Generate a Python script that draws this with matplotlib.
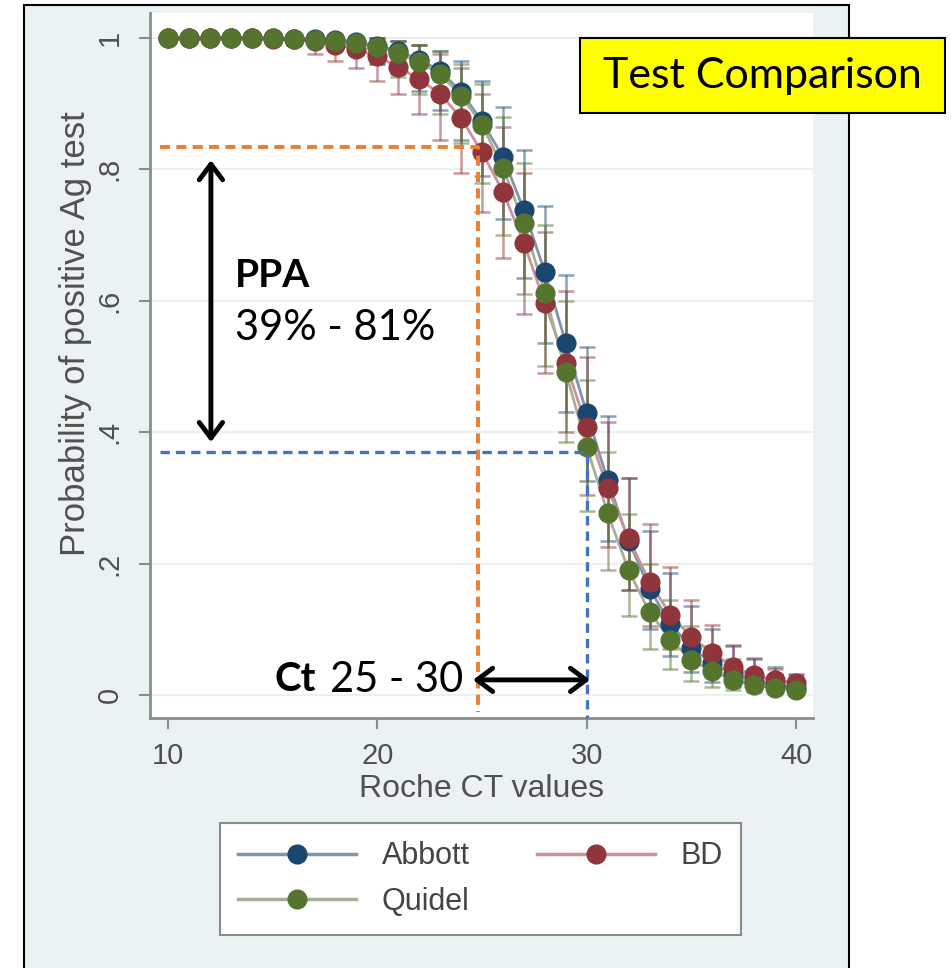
import matplotlib
matplotlib.use('Agg')
import matplotlib.pyplot as plt
import numpy as np
from matplotlib.patches import Rectangle
from matplotlib.lines import Line2D

# Roche CT values on the x axis
ct_values = list(range(10, 41))

# Probability of positive Ag test
abbott = [1.0, 1.0, 1.0, 1.0, 1.0, 1.0, 0.999, 0.998, 0.997, 0.994, 0.988, 0.98, 0.967, 0.95, 0.918, 0.873,
          0.819, 0.738, 0.644, 0.536, 0.429, 0.327, 0.235, 0.162, 0.108, 0.072, 0.048, 0.032, 0.021, 0.015, 0.011]
bd = [1.0, 1.0, 1.0, 1.0, 1.0, 0.999, 0.998, 0.995, 0.99, 0.983, 0.972, 0.956, 0.937, 0.915, 0.878, 0.826,
      0.766, 0.688, 0.597, 0.505, 0.408, 0.315, 0.239, 0.172, 0.122, 0.088, 0.064, 0.043, 0.030, 0.023, 0.018]
quidel = [1.0, 1.0, 1.0, 1.0, 1.0, 1.0, 0.999, 0.997, 0.996, 0.993, 0.986, 0.977, 0.963, 0.945, 0.912, 0.868,
          0.802, 0.718, 0.612, 0.492, 0.378, 0.277, 0.190, 0.126, 0.084, 0.053, 0.036, 0.023, 0.015, 0.011, 0.008]

# confidence interval bounds
abbott_lo = [1.0, 1.0, 1.0, 1.0, 1.0, 1.0, 0.995, 0.99, 0.985, 0.975, 0.96, 0.945, 0.92, 0.89, 0.845, 0.79,
             0.725, 0.635, 0.535, 0.43, 0.325, 0.235, 0.16, 0.1, 0.06, 0.035, 0.02, 0.012, 0.007, 0.005, 0.003]
abbott_hi = [1.0, 1.0, 1.0, 1.0, 1.0, 1.0, 1.0, 1.0, 1.0, 1.0, 1.0, 0.995, 0.99, 0.98, 0.965, 0.935,
             0.895, 0.83, 0.745, 0.64, 0.53, 0.425, 0.33, 0.25, 0.185, 0.135, 0.1, 0.075, 0.055, 0.042, 0.032]
bd_lo = [1.0, 1.0, 1.0, 1.0, 1.0, 0.995, 0.99, 0.975, 0.965, 0.955, 0.935, 0.915, 0.885, 0.845, 0.795, 0.735,
         0.665, 0.58, 0.49, 0.40, 0.305, 0.225, 0.16, 0.105, 0.07, 0.045, 0.03, 0.02, 0.01, 0.008, 0.005]
bd_hi = [1.0, 1.0, 1.0, 1.0, 1.0, 1.0, 1.0, 1.0, 1.0, 1.0, 1.0, 0.995, 0.99, 0.975, 0.955, 0.915,
         0.865, 0.795, 0.705, 0.615, 0.515, 0.415, 0.33, 0.26, 0.195, 0.145, 0.107, 0.076, 0.056, 0.04, 0.03]
quidel_lo = [1.0, 1.0, 1.0, 1.0, 1.0, 1.0, 0.995, 0.99, 0.985, 0.975, 0.96, 0.94, 0.915, 0.885, 0.84, 0.78,
             0.7, 0.61, 0.5, 0.385, 0.28, 0.19, 0.12, 0.07, 0.04, 0.022, 0.012, 0.007, 0.004, 0.003, 0.002]
quidel_hi = [1.0, 1.0, 1.0, 1.0, 1.0, 1.0, 1.0, 1.0, 1.0, 1.0, 1.0, 0.995, 0.99, 0.98, 0.96, 0.93,
             0.88, 0.81, 0.715, 0.6, 0.48, 0.37, 0.275, 0.2, 0.145, 0.105, 0.075, 0.055, 0.04, 0.032, 0.025]

labels = ['Abbott', 'BD', 'Quidel']
colors = ['#1a476f', '#90353b', '#55752f']
line_colors = ['#8194a9', '#c9939a', '#a9ae97']

# annotation values
ppa_high, ppa_low = 0.834, 0.37
ct_low, ct_high = 24.8, 30.0

W, H = 951, 968
fig = plt.figure(figsize=(W / 100, H / 100), dpi=100)
fig.patch.set_facecolor('white')

# stata-like graph region with black frame
fig.patches.append(Rectangle((24 / W, -0.01), (849 - 24) / W, 1.01 - 5 / H, transform=fig.transFigure,
                             facecolor='#EAF2F3', edgecolor='black', lw=1.5, zorder=-10))

ax = fig.add_axes([150 / W, 1 - 718 / H, 663 / W, 705 / H])
ax.set_facecolor('white')
ax.set_xlim(9.14, 40.81)
ax.set_ylim(-0.035, 1.038)

ax.set_axisbelow(True)
ax.yaxis.grid(True, color='#eef0f0', lw=1.5)

series = [(abbott, abbott_lo, abbott_hi), (bd, bd_lo, bd_hi), (quidel, quidel_lo, quidel_hi)]

for (vals, lo, hi), col in zip(series, colors):
    v = np.array(vals)
    yerr = [v - np.array(lo), np.array(hi) - v]
    ax.errorbar(ct_values, vals, yerr=yerr, fmt='none', ecolor=col, alpha=0.5,
                elinewidth=1.8, capsize=5.5, capthick=1.8, zorder=2)

for (vals, lo, hi), col, lc in zip(series, colors, line_colors):
    ax.plot(ct_values, vals, color=lc, lw=2, zorder=3)
    ax.plot(ct_values, vals, 'o', color=col, ms=13.5, zorder=4)

for s in ['top', 'right']:
    ax.spines[s].set_visible(False)
for s in ['left', 'bottom']:
    ax.spines[s].set_color('#8c8c8c')
    ax.spines[s].set_linewidth(2)

ax.set_xticks([10, 20, 30, 40])
ax.set_yticks([0, 0.2, 0.4, 0.6, 0.8, 1])
ax.set_yticklabels(['0', '.2', '.4', '.6', '.8', '1'])
ax.tick_params(axis='both', colors='#8c8c8c', labelcolor='#505050', labelsize=21, length=8, width=1.5)
ax.tick_params(axis='x', pad=9)
ax.tick_params(axis='y', labelrotation=90, pad=11)
for t in ax.get_yticklabels():
    t.set_va('center')

ax.set_xlabel('Roche CT values', fontsize=23, color='#505050', labelpad=3)
ax.set_ylabel('Probability of positive Ag test', fontsize=25, color='#505050')
ax.yaxis.set_label_coords(-0.088, 0.545)

# dashed guide lines
ax.plot([9.62, ct_low, ct_low], [ppa_high, ppa_high, -0.026], color='#ED7D31', lw=2.8,
        ls=(0, (2.6, 1.6)), zorder=5, clip_on=False)
ax.plot([9.62, ct_high, ct_high], [ppa_low, ppa_low, -0.035], color='#4472C4', lw=2.4,
        ls=(0, (2.8, 1.8)), zorder=5, clip_on=False)

# arrows
ax.annotate('', xy=(12.05, 0.814), xytext=(12.05, 0.385),
            arrowprops=dict(arrowstyle='<->,head_length=0.4,head_width=0.3', lw=3.5, color='black',
                            shrinkA=0, shrinkB=0, mutation_scale=28), zorder=6)
ax.annotate('', xy=(24.57, 0.023), xytext=(30.16, 0.023),
            arrowprops=dict(arrowstyle='<->,head_length=0.4,head_width=0.3', lw=3.5, color='black',
                            shrinkA=0, shrinkB=0, mutation_scale=28), zorder=6)

ax.text(13.2, 0.639, 'PPA', family='Lato', fontweight='bold', fontsize=28, va='center', ha='left', zorder=7)
ax.text(13.2, 0.559, '39% - 81%', family='Lato', fontsize=30, va='center', ha='left', zorder=7)
ax.text(15.11, 0.023, 'Ct', family='Lato', fontweight='bold', fontsize=29, va='center', ha='left', zorder=7)
ax.text(17.72, 0.023, '25 - 30', family='Lato', fontsize=30, va='center', ha='left', zorder=7)

# title box
fig.patches.append(Rectangle((580 / W, 1 - 113 / H), 365 / W, 75 / H, transform=fig.transFigure,
                             facecolor='#FFFF00', edgecolor='black', lw=1.5, zorder=10))
fig.text(762 / W, 1 - 76 / H, 'Test Comparison', ha='center', va='center', fontsize=31,
         family='Lato', zorder=11)

# legend
handles = [Line2D([], [], color=lc, lw=2.5, marker='o', ms=13.5, markerfacecolor=c, markeredgecolor=c)
           for c, lc in zip(colors, line_colors)]
order = [0, 2, 1]
leg = ax.legend([handles[i] for i in order], [labels[i] for i in order], ncol=2, loc='upper left',
                bbox_to_anchor=(220 / W, 1 - 823 / H), bbox_transform=fig.transFigure,
                frameon=True, fancybox=False, edgecolor='#8a8a8a', facecolor='white', framealpha=1,
                fontsize=22, labelcolor='#444444', handlelength=3.85, handletextpad=0.85,
                columnspacing=2.2, labelspacing=0.5, borderpad=0.6, borderaxespad=0)
leg.get_frame().set_linewidth(1.5)
for t in leg.get_texts():
    t.set_family('Liberation Sans')

plt.rcParams['font.family'] = ['Liberation Sans', 'DejaVu Sans']
for t in ax.get_xticklabels() + ax.get_yticklabels():
    t.set_family('Liberation Sans')
ax.xaxis.label.set_family('Liberation Sans')
ax.yaxis.label.set_family('Liberation Sans')

plt.savefig('out.png', dpi=100)
